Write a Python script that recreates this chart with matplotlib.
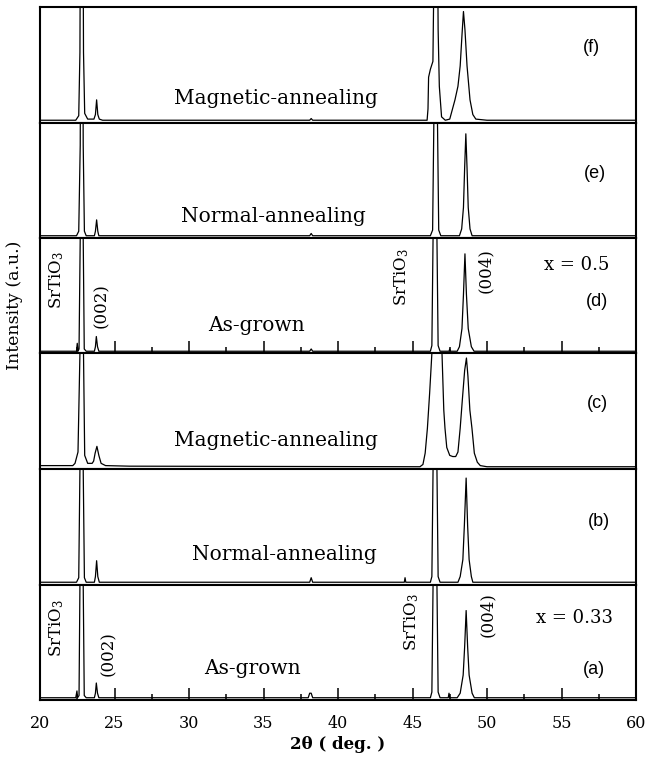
import matplotlib
matplotlib.use('Agg')
import matplotlib.pyplot as plt
from matplotlib.ticker import MultipleLocator

plt.rcParams['mathtext.fontset'] = 'dejavuserif'
SERIF = 'DejaVu Serif'
SANS = 'Liberation Sans'

# ---------------- data ----------------
x_min, x_max = 20, 60
xticks = [20, 25, 30, 35, 40, 45, 50, 55, 60]
xtick_labels = ['20', '25', '30', '35', '40', '45', '50', '55', '60']
panel_names = ['(f)', '(e)', '(d)', '(c)', '(b)', '(a)']
panel_texts = ['Magnetic-annealing', 'Normal-annealing', 'As-grown',
               'Magnetic-annealing', 'Normal-annealing', 'As-grown']
composition_labels = ['x = 0.5', 'x = 0.33']

# (f) magnetic-annealing, x = 0.5
f_x = [20, 22.4, 22.6, 22.68, 22.8, 22.92, 23.0, 23.2, 23.62, 23.72, 23.8, 23.88, 23.98,
       24.2, 38.1, 38.2, 38.3, 45.98, 46.04, 46.08, 46.2, 46.37, 46.5, 46.57, 46.66,
       46.72, 46.8, 46.95, 47.2, 47.5, 47.85, 48.05, 48.2, 48.32, 48.42, 48.52, 48.66,
       48.86, 49.05, 49.25, 50, 60]
f_y = [0, 0, 0.04, 0.6, 5.0, 0.6, 0.06, 0.01, 0.01, 0.05, 0.18, 0.05, 0.01,
       0, 0, 0.015, 0, 0, 0.1, 0.38, 0.45, 0.52, 2.0, 5.0, 2.0,
       0.8, 0.3, 0.03, 0, 0.01, 0.18, 0.3, 0.48, 0.75, 0.96, 0.8, 0.48,
       0.18, 0.05, 0.01, 0, 0]

# (e) normal-annealing, x = 0.5
e_x = [20, 22.45, 22.6, 22.7, 22.8, 22.9, 22.98, 23.1, 23.65, 23.72, 23.8, 23.88, 23.95,
       38.1, 38.2, 38.3, 46.2, 46.35, 46.45, 46.55, 46.66, 46.76, 46.9, 48.15, 48.3,
       48.42, 48.5, 48.58, 48.66, 48.74, 48.86, 49.0, 60]
e_y = [0, 0, 0.04, 0.8, 5.0, 0.8, 0.04, 0, 0, 0.04, 0.14, 0.04, 0,
       0, 0.02, 0, 0, 0.05, 1.2, 5.0, 1.2, 0.05, 0, 0, 0.06,
       0.25, 0.6, 0.9, 0.6, 0.25, 0.06, 0, 0]

# (d) as-grown, x = 0.5
d_x = [20, 22.45, 22.5, 22.55, 22.62, 22.7, 22.8, 22.9, 22.97, 23.1, 23.65, 23.72, 23.78,
       23.86, 23.95, 38.1, 38.2, 38.3, 46.2, 46.3, 46.38, 46.5, 46.64, 46.72, 46.85,
       47.45, 47.5, 47.55, 48.0, 48.15, 48.32, 48.42, 48.52, 48.62, 48.74, 48.95, 49.13, 60]
d_y = [0, 0, 0.07, 0, 0.02, 1.0, 5.0, 1.0, 0.02, 0, 0, 0.04, 0.13,
       0.04, 0, 0, 0.02, 0, 0, 0.05, 1.0, 5.0, 1.0, 0.05, 0,
       0, 0.02, 0, 0, 0.04, 0.2, 0.5, 0.86, 0.5, 0.2, 0.04, 0, 0]

# (c) magnetic-annealing, x = 0.33
c_x = [20, 22.2, 22.35, 22.55, 22.68, 22.8, 22.92, 23.0, 23.2, 23.5, 23.6, 23.7, 23.82,
       23.95, 24.1, 24.4, 26, 45.5, 45.7, 45.85, 46.0, 46.15, 46.3, 46.6, 46.98, 47.1,
       47.18, 47.3, 47.5, 47.7, 47.9, 48.05, 48.2, 48.35, 48.5, 48.62, 48.72, 48.85,
       48.99, 49.15, 49.35, 49.55, 50, 60]
c_y = [0.01, 0.01, 0.03, 0.13, 1.0, 5.0, 1.0, 0.1, 0.03, 0.03, 0.05, 0.12, 0.18,
       0.1, 0.03, 0.01, 0.005, 0, 0.02, 0.12, 0.34, 0.65, 1.0, 3.0, 1.0, 0.5,
       0.34, 0.17, 0.1, 0.09, 0.09, 0.13, 0.34, 0.6, 0.85, 0.96, 0.8, 0.5,
       0.34, 0.12, 0.04, 0.01, 0, 0]

# (b) normal-annealing, x = 0.33
b_x = [20, 22.45, 22.6, 22.68, 22.79, 22.9, 22.98, 23.1, 23.65, 23.72, 23.8, 23.88, 23.98,
       38.1, 38.2, 38.3, 44.45, 44.5, 44.55, 46.2, 46.3, 46.38, 46.51, 46.64, 46.72, 46.85,
       48.05, 48.2, 48.38, 48.48, 48.6, 48.7, 48.8, 48.95, 49.05, 60]
b_y = [0, 0, 0.04, 1.0, 5.0, 1.0, 0.04, 0, 0, 0.05, 0.19, 0.05, 0,
       0, 0.04, 0, 0, 0.04, 0, 0, 0.05, 1.0, 5.0, 1.0, 0.05, 0,
       0, 0.05, 0.2, 0.5, 0.92, 0.5, 0.2, 0.05, 0, 0]

# (a) as-grown, x = 0.33
a_x = [20, 22.4, 22.48, 22.52, 22.62, 22.68, 22.79, 22.9, 22.97, 23.1, 23.65, 23.72, 23.78,
       23.86, 23.95, 38.0, 38.1, 38.2, 38.3, 46.2, 46.3, 46.38, 46.51, 46.64, 46.72, 46.85,
       47.4, 47.45, 47.5, 48.0, 48.2, 48.4, 48.5, 48.6, 48.7, 48.8, 49.0, 49.15, 60]
a_y = [0, 0, 0.06, 0, 0.02, 1.0, 5.0, 1.0, 0.02, 0, 0, 0.04, 0.13,
       0.04, 0, 0, 0.04, 0.04, 0, 0, 0.05, 1.0, 5.0, 1.0, 0.05, 0,
       0, 0.04, 0, 0, 0.04, 0.2, 0.45, 0.77, 0.45, 0.2, 0.04, 0, 0]

series = [(f_x, f_y), (e_x, e_y), (d_x, d_y), (c_x, c_y), (b_x, b_y), (a_x, a_y)]

# ---------------- figure ----------------
W, H = 647, 758
fig = plt.figure(figsize=(W / 100, H / 100), dpi=100)
left_px, right_px, top_px, bottom_px = 40, 636, 7, 700
ph = (bottom_px - top_px) / 6


def fpos(x, y):
    return x / W, 1 - y / H


axes = []
for i, (xs, ys) in enumerate(series):
    y0 = top_px + i * ph
    ax = fig.add_axes([left_px / W, 1 - (y0 + ph) / H, (right_px - left_px) / W, ph / H])
    ax.plot(xs, ys, color='black', lw=0.9, zorder=2)
    ax.set_xlim(x_min, x_max)
    ax.set_ylim(-0.02, 1.0)
    ax.set_yticks([])
    for s in ax.spines.values():
        s.set_linewidth(1.5)
        s.set_zorder(3)
    if i in (2, 5):
        ax.set_xticks(xticks)
        ax.xaxis.set_minor_locator(MultipleLocator(2.5))
        ax.tick_params(axis='x', which='major', direction='in', length=8.5, width=1.1)
        ax.tick_params(axis='x', which='minor', direction='in', length=4.3, width=1.1)
        if i == 5:
            ax.set_xticklabels(xtick_labels, fontfamily=SERIF, fontsize=11.5)
            ax.tick_params(axis='x', which='major', pad=11)
        else:
            ax.set_xticklabels([])
    else:
        ax.set_xticks([])
    axes.append(ax)

axes[5].set_xlabel('2θ ( deg. )', fontfamily=SERIF, fontweight='bold', fontsize=12, labelpad=3)
axes[2].set_ylabel('Intensity (a.u.)', fontfamily=SERIF, fontsize=12.5)
axes[2].yaxis.set_label_coords(-0.029, 1 - (305 - (top_px + 2 * ph)) / ph)

# sample condition labels
cond_pos = [(276, 98), (273, 217), (256, 326), (276, 440), (284, 555), (252, 669)]
for (x, y), t in zip(cond_pos, panel_texts):
    fig.text(*fpos(x, y), t, fontfamily=SERIF, fontsize=14.5, ha='center', va='center')

# panel letters
name_pos = [(591, 48), (595, 173), (597, 302), (597, 403), (599, 522), (594, 670)]
for (x, y), t in zip(name_pos, panel_names):
    fig.text(*fpos(x, y), t, fontfamily=SANS, fontsize=13, ha='center', va='center')

# composition labels
for (x, y), t in zip([(577, 265), (574, 618)], composition_labels):
    fig.text(*fpos(x, y), t, fontfamily=SERIF, fontsize=13, ha='center', va='center')

# peak labels (rotated)
rot_labels = [((57, 280), 'SrTiO$_3$'), ((102, 306), '(002)'), ((402, 277), 'SrTiO$_3$'),
              ((485, 271), '(004)'), ((57, 628), 'SrTiO$_3$'), ((108, 654), '(002)'),
              ((412, 622), 'SrTiO$_3$'), ((488, 615), '(004)')]
for (x, y), t in rot_labels:
    fig.text(*fpos(x, y), t, fontfamily=SERIF, fontsize=12, ha='center', va='center',
             rotation=90)

fig.savefig('out.png', dpi=100)
